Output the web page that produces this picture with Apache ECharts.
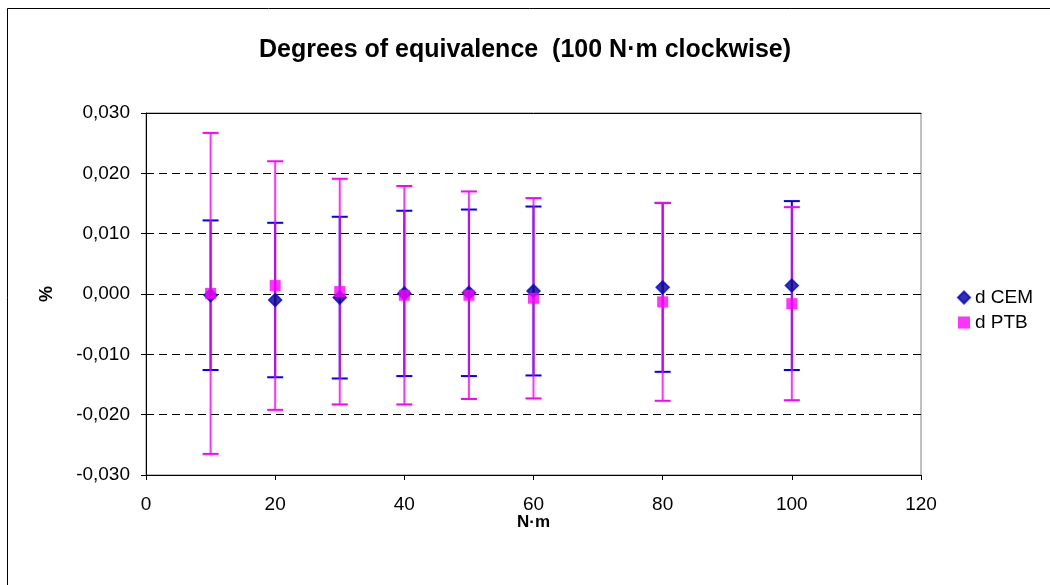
<!DOCTYPE html>
<html>
<head>
<meta charset="utf-8">
<script src="https://cdn.jsdelivr.net/npm/echarts@6/dist/echarts.min.js"></script>
<style>
html,body{margin:0;padding:0;background:#fff;}
#chart{width:1050px;height:585px;}
</style>
</head>
<body>
<div id="chart"></div>
<script>
// ---- data ----
const torque = [10, 20, 30, 40, 50, 60, 80, 100];
const cemValues = [-0.0002, -0.0010, -0.0006, 0.0001, 0.0002, 0.0005, 0.0011, 0.0014];
const cemErr    = [0.0124, 0.0128, 0.0134, 0.0137, 0.0138, 0.0140, 0.0140, 0.0140];
const ptbValues = [0.0001, 0.0014, 0.0004, -0.0002, -0.0002, -0.0007, -0.0013, -0.0016];
const ptbErr    = [0.0266, 0.0206, 0.0187, 0.0181, 0.0172, 0.0166, 0.0164, 0.0160];
const yTicks = [-0.03, -0.02, -0.01, 0, 0.01, 0.02, 0.03];

const FONT = '"Liberation Sans", Arial, sans-serif';
const fmt = v => { if (Math.abs(v) < 1e-9) v = 0; return v.toFixed(3).replace('.', ','); };

function errData(vals, errs) {
  return torque.map((x, i) => [x, vals[i] - errs[i], vals[i] + errs[i]]);
}
function errRender(lineColor, lineOpacity, capColor, capHalf) {
  return function (params, api) {
    const x = api.value(0);
    const lo = api.coord([x, api.value(1)]);
    const hi = api.coord([x, api.value(2)]);
    return {
      type: 'group',
      children: [
        { type: 'line', shape: { x1: lo[0], y1: lo[1], x2: hi[0], y2: hi[1] },
          style: { stroke: lineColor, lineWidth: 2, opacity: lineOpacity } },
        { type: 'line', shape: { x1: lo[0] - capHalf, y1: lo[1], x2: lo[0] + capHalf, y2: lo[1] },
          style: { stroke: capColor, lineWidth: 2 } },
        { type: 'line', shape: { x1: hi[0] - capHalf, y1: hi[1], x2: hi[0] + capHalf, y2: hi[1] },
          style: { stroke: capColor, lineWidth: 2 } }
      ]
    };
  };
}

const chart = echarts.init(document.getElementById('chart'), null, { renderer: 'canvas' });
chart.setOption({
  animation: false,
  backgroundColor: '#fff',
  textStyle: { fontFamily: FONT },
  title: {
    text: 'Degrees of equivalence  (100 N\u00b7m clockwise)',
    left: 'center', top: 33,
    textStyle: { fontFamily: FONT, fontSize: 25, fontWeight: 'bold', color: '#000' }
  },
  graphic: [
    { type: 'rect', shape: { x: 7.5, y: 8.5, width: 1100, height: 700 },
      style: { fill: 'none', stroke: '#000', lineWidth: 1 }, silent: true, z: -1 }
  ],
  legend: {
    orient: 'vertical', left: 952, top: 283,
    itemWidth: 12, itemHeight: 12, itemGap: 6,
    textStyle: { fontFamily: FONT, fontSize: 19, color: '#000' },
    data: ['d CEM', 'd PTB']
  },
  grid: { left: 146, right: 129, top: 113, bottom: 110, show: true, borderColor: '#808080', borderWidth: 1 },
  xAxis: [{
    type: 'value', min: 0, max: 120, interval: 20,
    name: 'N\u00b7m', nameLocation: 'middle', nameGap: 39, nameMoveOverlap: false,
    nameTextStyle: { fontFamily: FONT, fontSize: 17, fontWeight: 'bold', color: '#000' },
    axisLine: { onZero: false, lineStyle: { color: '#000', width: 1 } },
    axisTick: { show: true, length: 5, lineStyle: { color: '#000' } },
    axisLabel: { fontFamily: FONT, fontSize: 19, color: '#000', margin: 20 },
    splitLine: { show: false }
  }, {
    type: 'value', min: 0, max: 120, position: 'top',
    axisLine: { show: true, onZero: false, lineStyle: { color: '#000', width: 1 } },
    axisTick: { show: false }, axisLabel: { show: false }, splitLine: { show: false }
  }],
  yAxis: {
    type: 'value', min: -0.03, max: 0.03, interval: 0.01,
    name: '%', nameLocation: 'middle', nameGap: 90, nameRotate: 90,
    nameTextStyle: { fontFamily: FONT, fontSize: 18, fontWeight: 'bold', color: '#000' },
    axisLine: { show: true, onZero: false, lineStyle: { color: '#000', width: 1 } },
    axisTick: { show: true, length: 5, lineStyle: { color: '#000' } },
    axisLabel: { fontFamily: FONT, fontSize: 19, color: '#000', margin: 16, formatter: fmt },
    splitLine: { show: true, lineStyle: { color: '#000', width: 1, type: [8, 5] } }
  },
  series: [
    { name: 'cemErr', type: 'custom', renderItem: errRender('#0000ff', 1, '#0000ff', 8),
      data: errData(cemValues, cemErr), encode: { x: 0, y: [1, 2] }, z: 2, silent: true },
    { name: 'ptbErr', type: 'custom', renderItem: errRender('#ff00ff', 0.8, '#ff00ff', 8),
      data: errData(ptbValues, ptbErr), encode: { x: 0, y: [1, 2] }, z: 3, silent: true },
    { name: 'd CEM', type: 'scatter', symbol: 'diamond', symbolSize: 13,
      itemStyle: { color: '#000080', borderColor: '#0000ff', borderWidth: 1.5 },
      data: torque.map((x, i) => [x, cemValues[i]]), z: 4 },
    { name: 'd PTB', type: 'scatter', symbol: 'rect', symbolSize: 11,
      itemStyle: { color: '#ff00ff' },
      data: torque.map((x, i) => [x, ptbValues[i]]), z: 5 }
  ]
});
</script>
</body>
</html>
